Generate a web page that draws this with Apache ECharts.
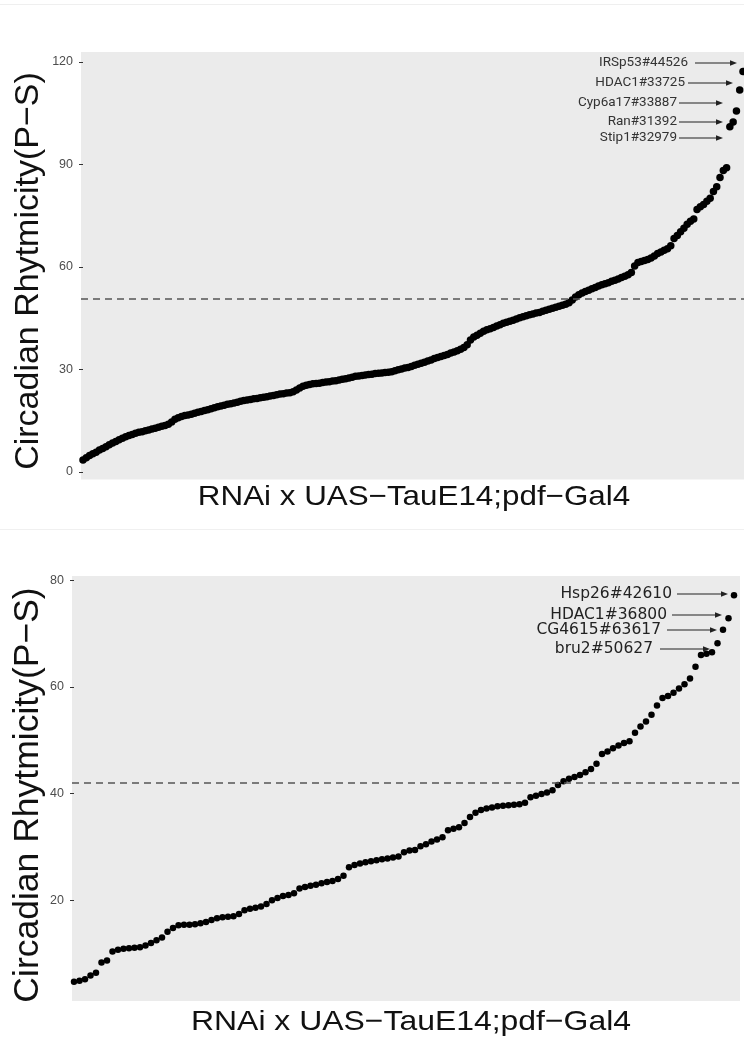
<!DOCTYPE html>
<html>
<head>
<meta charset="utf-8">
<script src="https://cdn.jsdelivr.net/npm/echarts@6/dist/echarts.min.js"></script>
<style>
html,body{margin:0;padding:0;background:#fff;}
#chart{width:744px;height:1040px;}
</style>
</head>
<body>
<div id="chart"></div>
<script>
// ---------------- DATA ----------------
const xTitle = 'RNAi x UAS\u2212TauE14;pdf\u2212Gal4';
const yTitle = 'Circadian Rhytmicity(P\u2212S)';

const topTicks = [0, 30, 60, 90, 120];
const bottomTicks = [20, 40, 60, 80];

const topThreshold = 50.6;
const bottomThreshold = 42.1;

const topLabels = ['IRSp53#44526', 'HDAC1#33725', 'Cyp6a17#33887', 'Ran#31392', 'Stip1#32979'];
const bottomLabels = ['Hsp26#42610', 'HDAC1#36800', 'CG4615#63617', 'bru2#50627'];

const topValues = [
  3.5, 4.2, 4.8, 5.3, 5.8, 6.4, 6.9, 7.4, 8.0, 8.5,
  8.9, 9.4, 9.9, 10.3, 10.7, 11.0, 11.3, 11.6, 11.8, 12.1,
  12.3, 12.6, 12.8, 13.1, 13.4, 13.6, 14.0, 14.6, 15.4, 15.9,
  16.2, 16.5, 16.7, 16.9, 17.2, 17.5, 17.7, 18.0, 18.2, 18.5,
  18.8, 19.1, 19.3, 19.5, 19.8, 20.0, 20.2, 20.4, 20.7, 20.9,
  21.1, 21.2, 21.4, 21.5, 21.7, 21.9, 22.0, 22.2, 22.4, 22.6,
  22.8, 22.9, 23.1, 23.2, 23.5, 24.0, 24.6, 25.1, 25.4, 25.6,
  25.8, 25.9, 26.0, 26.2, 26.3, 26.4, 26.6, 26.7, 26.9, 27.1,
  27.3, 27.5, 27.7, 28.0, 28.1, 28.2, 28.4, 28.5, 28.6, 28.8,
  28.9, 29.0, 29.1, 29.2, 29.3, 29.6, 29.9, 30.1, 30.4, 30.6,
  30.9, 31.2, 31.5, 31.8, 32.1, 32.5, 32.8, 33.2, 33.5, 33.8,
  34.1, 34.4, 34.8, 35.1, 35.5, 35.9, 36.4, 37.2, 38.6, 39.5,
  40.0, 40.6, 41.2, 41.6, 41.9, 42.3, 42.7, 43.1, 43.5, 43.8,
  44.1, 44.4, 44.8, 45.1, 45.4, 45.7, 46.0, 46.2, 46.5, 46.7,
  47.0, 47.3, 47.6, 47.9, 48.2, 48.5, 48.8, 49.1, 49.5, 50.3,
  51.2, 51.9, 52.4, 52.8, 53.2, 53.6, 54.0, 54.4, 54.8, 55.1,
  55.4, 55.8, 56.1, 56.5, 56.9, 57.3, 57.7, 58.4, 60.3, 61.3,
  61.6, 61.9, 62.2, 62.6, 63.2, 63.9, 64.4, 64.9, 65.3, 66.2,
  68.3, 69.2, 70.3, 71.3, 72.5, 73.4, 74.0, 76.8, 77.6, 78.3,
  79.2, 80.1, 82.1, 83.5, 86.2, 88.2, 89.0,
  101.0, 102.4, 105.6, 111.8, 117.2
];

const bottomValues = [
  4.7, 4.9, 5.2, 5.9, 6.4, 8.3, 8.7, 10.4, 10.7, 10.9,
  11.0, 11.1, 11.2, 11.5, 12.0, 12.5, 13.0, 14.1, 14.8, 15.3,
  15.4, 15.4, 15.5, 15.7, 15.9, 16.3, 16.6, 16.8, 16.9, 17.0,
  17.4, 18.1, 18.4, 18.6, 18.8, 19.3, 20.0, 20.4, 20.8, 21.0,
  21.3, 22.2, 22.5, 22.7, 22.9, 23.2, 23.4, 23.6, 24.0, 24.6,
  26.2, 26.6, 26.9, 27.1, 27.3, 27.5, 27.7, 27.8, 28.0, 28.2,
  29.0, 29.3, 29.4, 30.1, 30.5, 31.0, 31.4, 31.8, 33.1, 33.4,
  33.7, 34.5, 35.6, 36.4, 36.9, 37.2, 37.4, 37.6, 37.7, 37.8,
  37.9, 38.0, 38.3, 39.3, 39.6, 39.9, 40.2, 40.6, 41.6, 42.3,
  42.8, 43.1, 43.5, 44.0, 44.6, 45.6, 47.4, 47.9, 48.5, 49.0,
  49.5, 49.8, 51.4, 52.6, 53.5, 54.8, 56.5, 57.9, 58.3, 58.9,
  59.7, 60.5, 61.6, 63.8, 66.0, 66.2, 66.5, 68.2, 70.7, 72.9,
  77.2
];

// ---------------- LAYOUT ----------------
const G1 = {left: 81, top: 52, width: 663, height: 427.5, firstX: 83, lastX: 743};
const G2 = {left: 72, top: 576, width: 668, height: 425, firstX: 74, lastX: 734};

function xRange(g, n) {
  const ppi = (g.lastX - g.firstX) / (n - 1);
  return {min: -(g.firstX - g.left) / ppi, max: (n - 1) + (g.left + g.width - g.lastX) / ppi};
}
const xr1 = xRange(G1, topValues.length);
const xr2 = xRange(G2, bottomValues.length);

const panelBg = '#EBEBEB';
const labelColor = '#4D4D4D';

function yAxisCfg(idx, min, max, ticks) {
  return {
    type: 'value', gridIndex: idx, min: min, max: max,
    axisLine: {show: false},
    splitLine: {show: false},
    axisTick: {show: true, length: 4, lineStyle: {color: '#333', width: 1}, customValues: ticks},
    axisLabel: {show: true, customValues: ticks, color: labelColor, fontSize: 12.5,
      fontFamily: 'Liberation Sans', margin: 8}
  };
}
function xAxisCfg(idx, r) {
  return {
    type: 'value', gridIndex: idx, min: r.min, max: r.max,
    axisLine: {show: false}, axisTick: {show: false}, axisLabel: {show: false},
    splitLine: {show: false}
  };
}

// titles (pixel placement)
function titleGraphics(cfg) {
  return [
    {type: 'text', x: cfg.xx, y: cfg.xy, scaleX: 1.12, z: 50,
      style: {text: xTitle, fill: '#111', font: cfg.xs + 'px "Liberation Sans"', textAlign: 'center', textVerticalAlign: 'middle'}},
    {type: 'text', x: cfg.yx, y: cfg.yy, rotation: Math.PI / 2, z: 50,
      style: {text: yTitle, fill: '#111', font: cfg.ys + 'px "Liberation Sans"', textAlign: 'center', textVerticalAlign: 'middle'}}
  ];
}

// annotation layout (pixel positions)
const topAnn = [
  {tx: 688, y: 63, x1: 695, x2: 737},
  {tx: 685, y: 83, x1: 688, x2: 733},
  {tx: 677, y: 103, x1: 679, x2: 723},
  {tx: 677, y: 122, x1: 679, x2: 723},
  {tx: 677, y: 138, x1: 679, x2: 723}
];
const botAnn = [
  {tx: 672, y: 594, x1: 677, x2: 728},
  {tx: 667, y: 615, x1: 672, x2: 722},
  {tx: 661, y: 630, x1: 667, x2: 717},
  {tx: 653, y: 649, x1: 660, x2: 710}
];

function annGraphics(labels, ann, font, size, color) {
  const out = [];
  labels.forEach(function (t, i) {
    const a = ann[i];
    out.push({type: 'text', x: a.tx, y: a.y, z: 100,
      style: {text: t, fill: color, font: size + 'px ' + font, textAlign: 'right', textVerticalAlign: 'middle'}});
    out.push({type: 'line', z: 100, shape: {x1: a.x1, y1: a.y, x2: a.x2 - 5, y2: a.y},
      style: {stroke: '#222', lineWidth: 1.1}});
    out.push({type: 'polygon', z: 100, shape: {points: [[a.x2, a.y], [a.x2 - 7, a.y - 2.8], [a.x2 - 7, a.y + 2.8]]},
      style: {fill: '#222'}});
  });
  return out;
}

const graphics = [
  {type: 'rect', shape: {x: 0, y: 4, width: 744, height: 1}, style: {fill: '#EFEFEF'}, silent: true},
  {type: 'rect', shape: {x: 0, y: 529, width: 744, height: 1}, style: {fill: '#F0F0F0'}, silent: true}
].concat(titleGraphics({xx: 414, xy: 497, xs: 28, yx: 29, yy: 271, ys: 34}))
 .concat(titleGraphics({xx: 411, xy: 1022, xs: 28.5, yx: 28, yy: 795, ys: 35.5}))
 .concat(annGraphics(topLabels, topAnn, 'Roboto', 13.5, '#333'))
 .concat(annGraphics(bottomLabels, botAnn, '"DejaVu Sans"', 15.5, '#222'));

const chart = echarts.init(document.getElementById('chart'), null, {renderer: 'canvas'});
chart.setOption({
  animation: false,
  backgroundColor: '#fff',
  grid: [
    {left: G1.left, top: G1.top, width: G1.width, height: G1.height, show: true, backgroundColor: panelBg, borderWidth: 0},
    {left: G2.left, top: G2.top, width: G2.width, height: G2.height, show: true, backgroundColor: panelBg, borderWidth: 0}
  ],
  xAxis: [xAxisCfg(0, xr1), xAxisCfg(1, xr2)],
  yAxis: [yAxisCfg(0, -2.2, 122.9, topTicks), yAxisCfg(1, 1.1, 80.8, bottomTicks)],
  series: [
    {
      type: 'scatter', xAxisIndex: 0, yAxisIndex: 0, symbolSize: 7.5,
      itemStyle: {color: '#000', opacity: 1},
      data: topValues.map(function (v, i) { return [i, v]; }),
      markLine: {silent: true, symbol: 'none', label: {show: false},
        lineStyle: {color: '#555', type: [7, 5], width: 1.6},
        data: [{yAxis: topThreshold}]}
    },
    {
      type: 'scatter', xAxisIndex: 1, yAxisIndex: 1, symbolSize: 6.5,
      itemStyle: {color: '#000', opacity: 1},
      data: bottomValues.map(function (v, i) { return [i, v]; }),
      markLine: {silent: true, symbol: 'none', label: {show: false},
        lineStyle: {color: '#555', type: [7, 5], width: 1.6},
        data: [{yAxis: bottomThreshold}]}
    }
  ],
  graphic: graphics
});
</script>
</body>
</html>
